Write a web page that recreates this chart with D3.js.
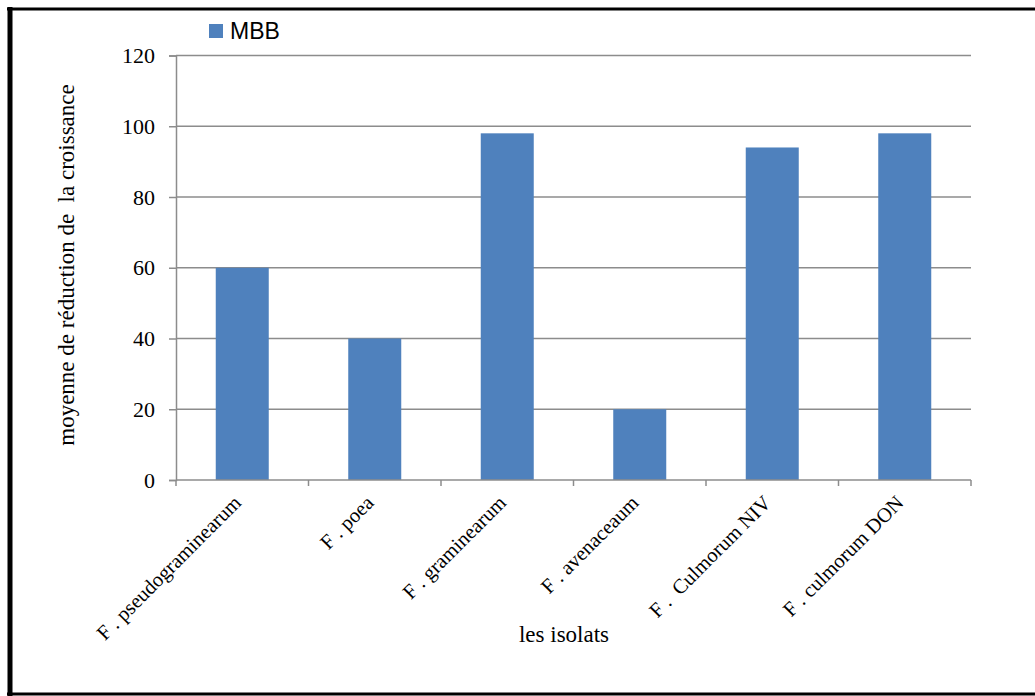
<!DOCTYPE html>
<html><head><meta charset="utf-8">
<script src="https://cdn.jsdelivr.net/npm/d3@7"></script>
<style>html,body{margin:0;padding:0;background:#fff;}svg{display:block;}</style>
</head><body>
<script>
const categories = ["F . pseudograminearum", "F . poea", "F . graminearum", "F . avenaceaum", "F .  Culmorum NIV", "F . culmorum DON"];
const seriesName = "MBB";
const values = [60, 40, 98, 20, 94, 98];
const yTicks = [0, 20, 40, 60, 80, 100, 120];

const W = 1035, H = 696;
const svg = d3.select("body").append("svg").attr("width", W).attr("height", H);
svg.append("rect").attr("width", W).attr("height", H).attr("fill", "#fff");

// frame
svg.append("line").attr("x1", 10).attr("x2", 10).attr("y1", 7).attr("y2", 696).attr("stroke", "#000").attr("stroke-width", 5);
svg.append("line").attr("x1", 7).attr("x2", 1035).attr("y1", 9).attr("y2", 9).attr("stroke", "#000").attr("stroke-width", 3);
svg.append("line").attr("x1", 7).attr("x2", 1035).attr("y1", 694).attr("y2", 694).attr("stroke", "#000").attr("stroke-width", 3);

const pLeft = 176, pRight = 971, pTop = 55.5, pBottom = 480;
const x = d3.scaleBand().domain(categories).range([pLeft, pRight]).paddingInner(0.6).paddingOuter(0.3);
const y = d3.scaleLinear().domain([0, 120]).range([pBottom, pTop]);

// gridlines
svg.append("g").selectAll("line").data(yTicks.filter(d => d > 0)).join("line")
  .attr("x1", pLeft).attr("x2", pRight).attr("y1", d => y(d)).attr("y2", d => y(d))
  .attr("stroke", "#8c8c8c").attr("stroke-width", 1.5);

// bars
svg.append("g").selectAll("rect").data(values).join("rect")
  .attr("x", (d, i) => x(categories[i])).attr("width", x.bandwidth())
  .attr("y", d => y(d)).attr("height", d => y(0) - y(d))
  .attr("fill", "#4f81bd");

// y axis
const yAxis = svg.append("g").attr("transform", `translate(${pLeft},0)`)
  .call(d3.axisLeft(y).tickValues(yTicks).tickSize(7).tickPadding(14));
yAxis.select(".domain").attr("stroke", "#8c8c8c").attr("stroke-width", 1.5);
yAxis.selectAll(".tick line").attr("stroke", "#8c8c8c").attr("stroke-width", 1.5);
yAxis.selectAll("text").attr("font-family", "Liberation Serif, Times New Roman, serif").attr("font-size", 22).attr("fill", "#000");

// x axis
const step = x.step();
const xEdges = d3.range(categories.length + 1).map(i => pLeft + i * step);
svg.append("line").attr("x1", pLeft).attr("x2", pRight).attr("y1", pBottom).attr("y2", pBottom)
  .attr("stroke", "#8c8c8c").attr("stroke-width", 1.5);
svg.append("g").selectAll("line").data(xEdges).join("line")
  .attr("x1", d => d).attr("x2", d => d).attr("y1", pBottom).attr("y2", pBottom + 6)
  .attr("stroke", "#8c8c8c").attr("stroke-width", 1.5);

svg.append("g").selectAll("text").data(categories).join("text")
  .attr("transform", d => `translate(${x(d) + x.bandwidth() / 2 - 5},${pBottom + 19}) rotate(-45)`)
  .attr("text-anchor", "end").attr("dy", "0.35em")
  .attr("font-family", "Liberation Serif, Times New Roman, serif").attr("font-size", 20.5)
  .style("white-space", "pre")
  .text(d => d);

// axis titles
svg.append("text").attr("x", 564).attr("y", 642).attr("text-anchor", "middle")
  .attr("font-family", "Liberation Serif, Times New Roman, serif").attr("font-size", 23)
  .text("les isolats");
svg.append("text").attr("transform", "translate(74,265) rotate(-90)").attr("text-anchor", "middle")
  .attr("font-family", "Liberation Serif, Times New Roman, serif").attr("font-size", 23)
  .style("white-space", "pre")
  .text("moyenne de réduction de  la croissance");

// legend
svg.append("rect").attr("x", 209).attr("y", 24).attr("width", 14).attr("height", 14).attr("fill", "#4f81bd");
svg.append("text").attr("x", 230).attr("y", 39).attr("font-family", "Liberation Sans, Arial, sans-serif")
  .attr("font-size", 23).attr("fill", "#000").text(seriesName);
</script>
</body></html>
